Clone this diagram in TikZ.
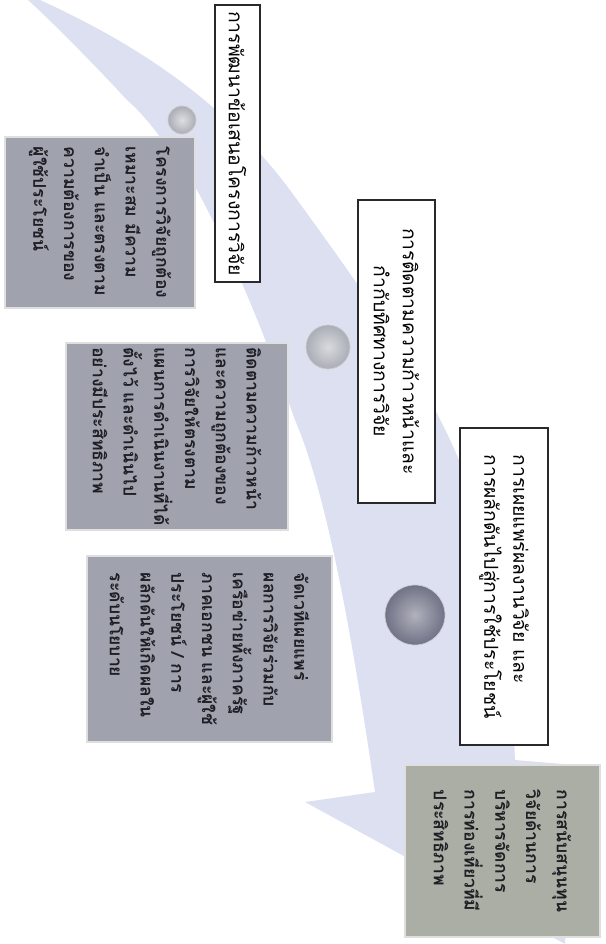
\documentclass[tikz,border=0pt]{standalone}
\usepackage{fontspec}
\newfontfamily\thaifont[Script=Thai]{Loma}
\definecolor{bandcol}{RGB}{221,224,241}
\definecolor{boxgray}{RGB}{160,163,174}
\definecolor{boxsage}{RGB}{170,174,164}
\definecolor{framecol}{RGB}{40,40,45}
\definecolor{txtcol}{RGB}{30,30,36}
\definecolor{dotlight}{RGB}{170,173,182}
\definecolor{dotdark}{RGB}{112,114,134}

\begin{document}
\begin{tikzpicture}[x=0.2mm, y=-0.2mm,
    titlebox/.style={draw=framecol, line width=1.3pt, fill=white, rotate=-90, align=center, inner sep=0pt,
      font=\thaifont\fontsize{11}{16.5}\selectfont},
    notebox/.style={fill=boxgray, draw=gray!25, line width=1pt, rotate=-90, align=left, inner sep=0pt,
      text=txtcol, font=\thaifont\bfseries\fontsize{10}{17.5}\selectfont},
    milestone/.style={circle, inner sep=0pt, minimum size=#1, draw=gray!40, line width=.4pt}]

    \useasboundingbox (0,0) rectangle (605,944);

    % curved band with its arrow head
    \fill[bandcol] (40,0) .. controls (150,50) and (230,110) .. (290,190)
        .. controls (370,300) and (450,410) .. (480,520)
        .. controls (500,600) and (512,680) .. (515,760)
        -- (575,765) -- (565,944) -- (305,802) -- (375,792)
        .. controls (350,620) and (325,490) .. (295,420)
        .. controls (270,350) and (240,270) .. (197,190)
        .. controls (170,150) and (150,120) .. (127,100)
        .. controls (90,60) and (50,20) .. (28,0) -- cycle;

    % milestones
    \node[milestone=5.6mm, inner color=dotlight!40!white, outer color=dotlight] (m1) at (182,120) {};
    \node[milestone=8.8mm, inner color=dotlight!45!white, outer color=dotlight] (m2) at (328,347) {};
    \node[milestone=12mm, inner color=dotdark!55!white, outer color=dotdark] (m3) at (415,615) {};

    % step titles
    \node[titlebox, minimum width=55.4mm, minimum height=9mm] (t1) at (237.5,143.5)
        {การพัฒนาข้อเสนอโครงการวิจัย};
    \node[titlebox, minimum width=60.6mm, minimum height=15.4mm] (t2) at (396.5,351.5)
        {การติดตามความก้าวหน้าและ\\กำกับทิศทางการวิจัย};
    \node[titlebox, align=left, minimum width=63.4mm, minimum height=17.6mm] (t3) at (504,586.5)
        {การเผยแพร่ผลงานวิจัย และ\\การผลักดันไปสู่การใช้ประโยชน์};

    % details
    \node[notebox, minimum width=34.2mm, minimum height=38mm] (n1) at (100,222.5)
        {โครงการวิจัยถูกต้อง\\เหมาะสม มีความ\\จำเป็น และตรงตาม\\ความต้องการของ\\ผู้ใช้ประโยชน์};
    \node[notebox, minimum width=37.4mm, minimum height=44.4mm] (n2) at (177,436.5)
        {ติดตามความก้าวหน้า\\และความถูกต้องของ\\การวิจัยให้ตรงตาม\\แผนการดำเนินงานที่ได้\\ตั้งไว้ และดำเนินไป\\อย่างมีประสิทธิภาพ};
    \node[notebox, minimum width=37.2mm, minimum height=49mm] (n3) at (209.5,649)
        {จัดเวทีเผยแพร่\\ผลการวิจัยร่วมกับ\\เครือข่ายทั้งภาครัฐ\\ภาคเอกชน และผู้ใช้\\ประโยชน์ / การ\\ผลักดันให้เกิดผลใน\\ระดับนโยบาย};
    \node[notebox, fill=boxsage, minimum width=34.4mm, minimum height=39mm] (n4) at (502.5,851)
        {การสนับสนุนทุน\\วิจัยด้านการ\\บริหารจัดการ\\การท่องเที่ยวที่มี\\ประสิทธิภาพ};

\end{tikzpicture}
\end{document}
